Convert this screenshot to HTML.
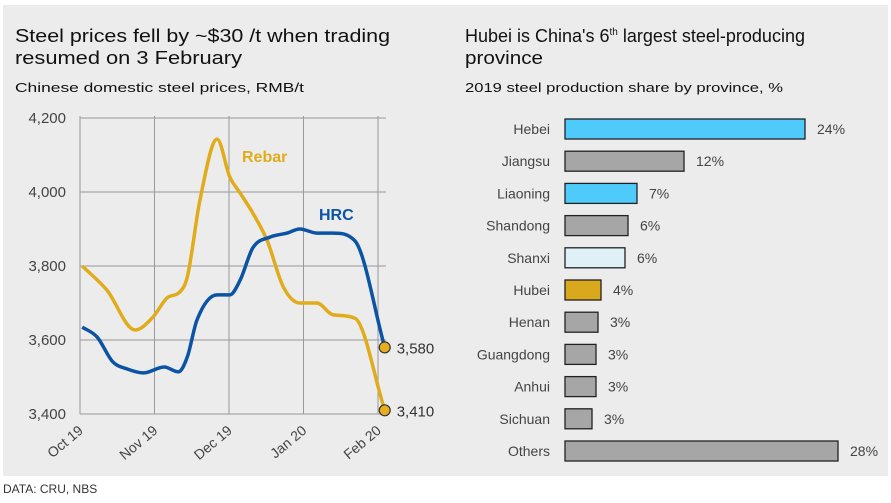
<!DOCTYPE html>
<html><head><meta charset="utf-8">
<style>
html,body{margin:0;padding:0;background:#fff;}
svg{display:block;font-family:"Liberation Sans",Arial,sans-serif;}
</style></head>
<body>
<svg id="chart" width="891" height="503" viewBox="0 0 891 503">
  <rect x="3" y="5" width="885" height="471" fill="#ececec"/>
  <text x="15" y="42" font-size="18" fill="#111" textLength="375" lengthAdjust="spacingAndGlyphs">Steel prices fell by ~$30 /t when trading</text>
  <text x="15" y="64" font-size="18" fill="#111" textLength="227" lengthAdjust="spacingAndGlyphs">resumed on 3 February</text>
  <text x="15" y="92" font-size="13" fill="#111" textLength="289" lengthAdjust="spacingAndGlyphs">Chinese domestic steel prices, RMB/t</text>
  <text x="465" y="42" font-size="18" fill="#111">Hubei is China's 6<tspan font-size="10" dy="-7">th</tspan><tspan dy="7"> largest steel-producing</tspan></text>
  <text x="465" y="64" font-size="18" fill="#111" textLength="78" lengthAdjust="spacingAndGlyphs">province</text>
  <text x="465" y="92" font-size="13" fill="#111" textLength="318" lengthAdjust="spacingAndGlyphs">2019 steel production share by province, %</text>
  <text x="3" y="493" font-size="12" fill="#333">DATA: CRU, NBS</text>
  <g id="line-chart"></g>
  <g id="bar-chart"></g>
</svg>
<script>
// ---- line chart data (x in months since Oct 19) ----
const monthLabels = ["Oct 19","Nov 19","Dec 19","Jan 20","Feb 20"];
const yTicks = [3400,3600,3800,4000,4200];
const yTickLabels = ["3,400","3,600","3,800","4,000","4,200"];
const rebarX = [0.03,0.36,0.74,0.98,1.17,1.34,1.44,1.61,1.84,2.01,2.15,2.32,2.51,2.73,2.95,3.18,3.40,3.69,4.09];
const rebarY = [3800,3735,3627,3662,3714,3730,3770,3978,4143,4041,3997,3943,3870,3743,3700,3700,3668,3659,3410];
const hrcX = [0.03,0.23,0.44,0.63,0.85,1.13,1.32,1.44,1.57,1.84,2.01,2.15,2.32,2.55,2.78,2.95,3.18,3.40,3.69,4.09];
const hrcY = [3635,3608,3541,3522,3511,3527,3514,3554,3654,3722,3722,3762,3849,3878,3889,3900,3889,3889,3868,3580];
const endLabels = ["3,580","3,410"];

// ---- bar chart data ----
const provinces = ["Hebei","Jiangsu","Liaoning","Shandong","Shanxi","Hubei","Henan","Guangdong","Anhui","Sichuan","Others"];
const shares = [24,11.9,7.2,6.3,6.0,3.6,3.3,3.1,3.1,2.7,27.3];
const shareLabels = ["24%","12%","7%","6%","6%","4%","3%","3%","3%","3%","28%"];
const barColors = ["#4fcbfb","#a6a6a6","#4fcbfb","#a6a6a6","#dff0f6","#d9a81c","#a6a6a6","#a6a6a6","#a6a6a6","#a6a6a6","#a6a6a6"];

const NS = "http://www.w3.org/2000/svg";
function mk(tag, attrs, parent){const e=document.createElementNS(NS,tag);for(const k in attrs)e.setAttribute(k,attrs[k]);parent.appendChild(e);return e;}

const L = document.getElementById('line-chart');
const xL = 80, monthW = 74.5, y0 = 414, y1 = 118;
const xs = m => xL + m*monthW;
const ys = v => y0 - (v-3400)/(4200-3400)*(y0-y1);

yTicks.forEach((t,i)=>{
  const g = mk('line',{x1:xL,x2:xs(4)+8,y1:ys(t),y2:ys(t),stroke:'#999','stroke-width':1},L);
  
  
  const tx = mk('text',{x:xL-14,y:ys(t)+5,'font-size':15,'text-anchor':'end',fill:'#444'},L);
  tx.textContent = yTickLabels[i];
  
  
});
monthLabels.forEach((m,i)=>{
  const g = mk('line',{x1:xs(i),x2:xs(i),y1:y1-2,y2:y0,stroke:'#999','stroke-width':1},L);
  
  
  const tx = mk('text',{x:xs(i)+4,y:y0+18,'font-size':14,'text-anchor':'end',fill:'#444',transform:`rotate(-40 ${xs(i)+4} ${y0+18})`},L);
  tx.textContent = m;
  
  
});

// monotone cubic (Fritsch-Carlson) to avoid overshoot
function smoothPath(px,py){
  const X = px.map(xs), Y = py.map(ys), n = X.length;
  const d = [], m = new Array(n);
  for(let i=0;i<n-1;i++) d.push((Y[i+1]-Y[i])/(X[i+1]-X[i]));
  m[0]=d[0]; m[n-1]=d[n-2];
  for(let i=1;i<n-1;i++) m[i] = (d[i-1]*d[i] <= 0) ? 0 : (d[i-1]+d[i])/2;
  for(let i=0;i<n-1;i++){
    if(d[i]===0){m[i]=0;m[i+1]=0;continue;}
    const a=m[i]/d[i], b=m[i+1]/d[i], s=a*a+b*b;
    if(s>9){const t=3/Math.sqrt(s);m[i]=t*a*d[i];m[i+1]=t*b*d[i];}
  }
  let p = `M${X[0]},${Y[0]}`;
  for(let i=0;i<n-1;i++){
    const h=(X[i+1]-X[i])/3;
    p += ` C${X[i]+h},${Y[i]+m[i]*h} ${X[i+1]-h},${Y[i+1]-m[i+1]*h} ${X[i+1]},${Y[i+1]}`;
  }
  return p;
}
const rebar = mk('path',{d:smoothPath(rebarX,rebarY),fill:'none',stroke:'#e0ac1c','stroke-width':3.5,'stroke-linejoin':'round'},L);


const hrc = mk('path',{d:smoothPath(hrcX,hrcY),fill:'none',stroke:'#0b54a4','stroke-width':3.5,'stroke-linejoin':'round'},L);



const ends = [[hrcX[hrcX.length-1],hrcY[hrcY.length-1]],[rebarX[rebarX.length-1],rebarY[rebarY.length-1]]];
ends.forEach((pt,i)=>{
  const c = mk('circle',{cx:xs(pt[0]),cy:ys(pt[1]),r:5.5,fill:'#e6ad1f',stroke:'#333','stroke-width':1.2},L);
  
  
  const t = mk('text',{x:xs(pt[0])+12,y:ys(pt[1])+6,'font-size':15,fill:'#333'},L);
  t.textContent = endLabels[i];
  
  
});
const rl = mk('text',{x:242,y:162,'font-size':16,'font-weight':'bold',fill:'#e0ac1c'},L);
rl.textContent='Rebar';


const hl = mk('text',{x:319,y:220,'font-size':16,'font-weight':'bold',fill:'#0b54a4'},L);
hl.textContent='HRC';



const B = document.getElementById('bar-chart');
const bx0 = 565, pxPer = 10, rowTop = 129, rowStep = 32.2, barH = 20;
provinces.forEach((p,i)=>{
  const yc = rowTop + i*rowStep;
  const w = shares[i]*pxPer;
  const r = mk('rect',{x:bx0,y:yc-barH/2,width:w,height:barH,fill:barColors[i],stroke:'#222','stroke-width':1.3},B);
  
  
  const lab = mk('text',{x:550,y:yc+5,'font-size':14,'text-anchor':'end',fill:'#444'},B);
  lab.textContent = p;
  
  
  const v = mk('text',{x:bx0+w+12,y:yc+5,'font-size':14,fill:'#444'},B);
  v.textContent = shareLabels[i];
  
  
});
</script>
</body></html>
